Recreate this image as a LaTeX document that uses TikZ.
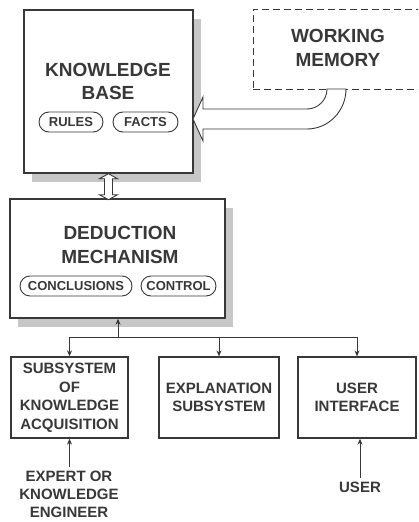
\documentclass[tikz,border=0pt]{standalone}
\usepackage{fontspec}
\setmainfont{Liberation Sans}
\usetikzlibrary{arrows.meta}
\usetikzlibrary{shadows}
\usetikzlibrary{shapes.misc}
\colorlet{ink}{black!78}
\colorlet{shade}{black!22}
\tikzstyle{panel}=[draw=ink,line width=1.4pt,fill=white,inner sep=0pt,drop shadow={shadow xshift=8pt,shadow yshift=-9pt,fill=shade,opacity=1}]
\tikzstyle{subbox}=[draw=ink,line width=1.3pt,fill=white,inner sep=0pt,align=center,text=ink,font=\fontsize{15}{18.5}\selectfont\bfseries]
\tikzstyle{title}=[align=center,text=ink,font=\fontsize{19}{23.5}\selectfont\bfseries]
\tikzstyle{pill}=[rounded rectangle,draw=ink,line width=0.9pt,inner sep=0pt,minimum height=20pt,text=ink,font=\fontsize{13}{15}\selectfont\bfseries]
\tikzstyle{plain}=[align=center,text=ink,font=\fontsize{15}{18}\selectfont\bfseries]
\tikzstyle{link}=[draw=ink,line width=1pt,-{Stealth[length=6pt,width=5pt]}]
\tikzstyle{hollow}=[draw=ink,line width=0.9pt,fill=white]

\begin{document}
\begin{tikzpicture}[x=1pt,y={(0pt,-1pt)}]
	\useasboundingbox (0,0) rectangle (418,522);
	\clip (0,0) rectangle (418,522);
	% working memory
	\node[draw=ink,line width=0.9pt,dashed,dash pattern=on 7pt off 4pt,minimum width=177pt,minimum height=80pt,inner sep=0pt] (wm) at (341.5,49) {};
	\node[title] (wmt) at (338,48) {WORKING\\MEMORY};
	% knowledge base
	\node[panel,minimum width=169pt,minimum height=163pt] (kb) at (108.5,91.5) {};
	\node[title] (kbt) at (108,81.5) {KNOWLEDGE\\BASE};
	\node[pill,minimum width=64pt] (rules) at (71,122) {RULES};
	\node[pill,minimum width=65pt] (facts) at (145.5,122) {FACTS};
	% deduction mechanism
	\node[panel,minimum width=215pt,minimum height=119pt] (dm) at (117.5,258.5) {};
	\node[title] (dmt) at (120,245) {DEDUCTION\\MECHANISM};
	\node[pill,minimum width=112pt] (concl) at (76,286) {CONCLUSIONS};
	\node[pill,minimum width=75pt] (ctrl) at (178.5,286) {CONTROL};
	% subsystems
	\node[subbox,minimum width=117pt,minimum height=81pt] (sub) at (69.5,397.5) {SUBSYSTEM\\OF\\KNOWLEDGE\\ACQUISITION};
	\node[subbox,minimum width=120pt,minimum height=81pt] (exp) at (219,397.5) {EXPLANATION\\SUBSYSTEM};
	\node[subbox,minimum width=118pt,minimum height=81pt] (ui) at (357,397.5) {USER\\INTERFACE};
	\node[plain] (expert) at (69,494) {EXPERT OR\\KNOWLEDGE\\ENGINEER};
	\node[plain] (user) at (360,487) {USER};
	% wide arrows
	\draw[hollow] (327,89) .. controls (327,100) and (318,109) .. (307,109) -- (203,109) -- (203,97) -- (193,119)
		-- (203,141) -- (203,129) -- (307,129) .. controls (328.5,129) and (346,111) .. (346,89) -- cycle;
	\draw[hollow] (kb.south) -- ++(9,5) -- ++(-5,0) -- ++(0,16) -- ++(5,0) -- ++(-9,5)
		-- ++(-9,-5) -- ++(5,0) -- ++(0,-16) -- ++(-5,0) -- cycle;
	% links
	\coordinate (fork) at (118,337);
	\draw[link] (fork) -- (fork |- dm.south);
	\draw[draw=ink,line width=1pt] (sub.north |- fork) -- (ui.north |- fork);
	\foreach \n in {sub,exp,ui}
		\draw[link] (\n.north |- fork) -- (\n.north);
	\draw[link] (expert.north -| sub.south) -- (sub.south);
	\draw[link] (user.north) -- (user.north |- ui.south);
\end{tikzpicture}
\end{document}
